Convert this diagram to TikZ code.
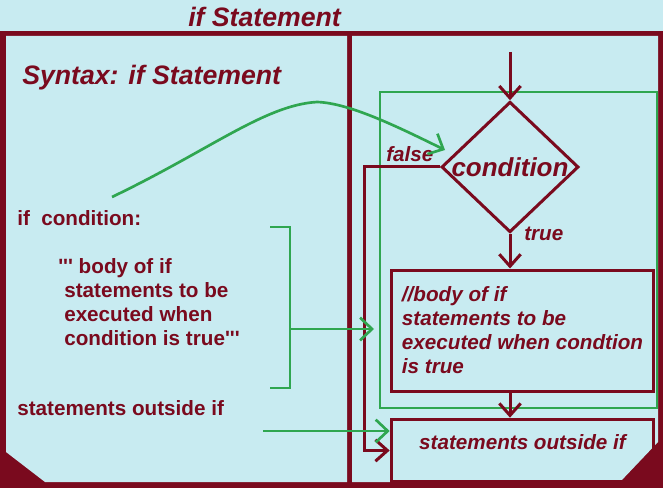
\documentclass[tikz,border=0pt]{standalone}
\usepackage{fontspec}
\setmainfont{Liberation Sans}
\usetikzlibrary{positioning,shapes.geometric,arrows.meta}
\definecolor{framered}{HTML}{7A0A1E}
\definecolor{paleblue}{HTML}{C8EBF1}
\definecolor{linegreen}{HTML}{2FA650}

\begin{document}
\begin{tikzpicture}[
    x=0.75pt, y=-0.75pt,
    titletext/.style={anchor=base west, inner sep=0pt, text=framered, font=\fontsize{20}{24}\selectfont\bfseries\itshape},
    codetext/.style={anchor=north west, inner sep=0pt, text=framered, align=left, font=\fontsize{15.5}{18}\selectfont\bfseries},
    flowlabel/.style={anchor=base west, inner sep=0pt, text=framered, font=\fontsize{15.5}{18}\selectfont\bfseries\itshape},
    flowcond/.style={draw=framered, line width=2.25pt, diamond, aspect=1.05, inner sep=0pt, minimum width=101pt, minimum height=97pt, text=framered, font=\fontsize{19.5}{22}\selectfont\bfseries\itshape},
    flowbox/.style={draw=framered, line width=2.25pt, rectangle, minimum width=197pt, align=left, text=framered, font=\fontsize{15.5}{18}\selectfont\bfseries\itshape},
    redarrow/.style={draw=framered, line width=2.25pt, -{Straight Barb[length=9pt,width=16pt]}},
    greenline/.style={draw=linegreen, line width=2pt},
    greenarrow/.style={draw=linegreen, line width=2pt, -{Straight Barb[length=9pt,width=17pt]}}
]
  \useasboundingbox (0,0) rectangle (663,488);
  % Frame
  \fill[paleblue] (0,0) rectangle (663,488);
  \fill[framered] (0,31) rectangle (663,488);
  \fill[paleblue] (6,36) -- (347,36) -- (347,482) -- (45,482) -- (6,452) -- cycle;
  \fill[paleblue] (352,36) -- (658,36) -- (658,442) -- (620,482) -- (352,482) -- cycle;

  % Texts
  \node (title) [titletext] at (188,27) {if Statement};
  \node (syntax) [titletext] at (22,85) {Syntax: if Statement};
  \node (ifline) [codetext] at (17,210) {if\ \ condition:};
  \node (bodycode) [codetext] at (64,258) {\hspace*{-4.5pt}\textquotesingle\textquotesingle\textquotesingle\ body of if\\ statements to be\\ executed when\\ condition is true\textquotesingle\textquotesingle\textquotesingle};
  \node (outcode) [codetext] at (17,400) {statements outside if};

  % Green frame
  \draw[greenline] (380,92) rectangle (657,408);

  % Flowchart
  \coordinate (entry) at (510,52);
  \node (cond) [flowcond] at (510,167) {condition};
  \node (body) [flowbox, minimum height=90.75pt] at (522.5,330.5) {//body of if\\ statements to be\\ executed when condtion\\ is true};
  \node (rest) [flowbox, minimum height=47pt, text depth=13pt] at (522.5,450.5) {statements outside if};
  \node (falselbl) [flowlabel] at (386,162) {false};
  \node (truelbl) [flowlabel] at (524,240) {true};

  % Arrows
  \draw [redarrow] (entry) -- (cond.north);
  \draw [redarrow] (cond.south) -- (cond.south |- body.north);
  \draw [redarrow] (body.south -| cond.south) -- (rest.north -| cond.south);
  \draw [redarrow] (cond.west) -- ++(-75,0) |- (rest.west);

  % Green links
  \coordinate (ifstart) at (112,197);
  \coordinate (condin) at (445,150);
  \coordinate (brtop) at (270,227);
  \coordinate (brbot) at (270,388);
  \coordinate (brmid) at (290,329);
  \coordinate (bodyin) at (374,329);
  \coordinate (outstart) at (263,431);
  \draw [greenarrow] (ifstart) .. controls (210,150) and (265,105) .. (317,102) .. controls (350,103) and (400,128) .. (condin);
  \draw [greenline] (brtop) -| (brmid) |- (brbot);
  \draw [greenarrow] (brmid) -- (bodyin);
  \draw [greenarrow] (outstart) -- (rest.west |- outstart);
\end{tikzpicture}
\end{document}
